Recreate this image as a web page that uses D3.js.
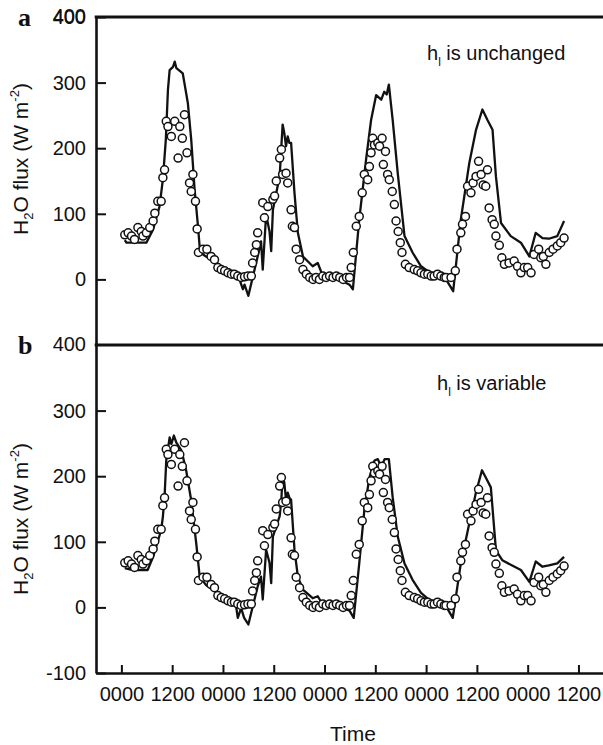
<!DOCTYPE html>
<html>
<head>
<meta charset="utf-8">
<script src="https://cdn.jsdelivr.net/npm/d3@7"></script>
<style>
  body { margin: 0; background: #fff; }
  svg { display: block; font-family: "Liberation Sans", Arial, sans-serif; }
  .tick text { font-size: 20px; fill: #111; }
</style>
</head>
<body>
<svg id="chart" width="603" height="745"></svg>
<script>
// x ticks (hours since start) and their labels
const timeTicks = [0, 12, 24, 36, 48, 60, 72, 84, 96, 108];
const yTicks = [0, 100, 200, 300, 400];
const yTicksB = [-100, 0, 100, 200, 300];

// measured H2O flux (hour, W m-2) - same in both panels
const observed = [
  [0.8,68],[1.6,71],[2.4,66],[3.1,61],[3.9,79],[4.7,73],[5.1,66],[5.9,71],[6.7,79],[7.5,89],
  [7.9,101],[8.6,119],[9.4,119],[9.8,155],[10.2,167],[10.6,241],[11,233],[11.8,218],[12.6,241],
  [13.4,185],[13.8,233],[14.4,215],[14.9,251],[15.5,193],[16.1,147],[16.5,134],[16.9,160],
  [17.5,119],[17.9,77],[18.2,41],[19.3,46],[20.2,46],[21.2,35],[22,30],[22.8,18],[23.6,15],
  [24.4,13],[25.2,10],[26,8],[26.7,8],[27.5,5],[28.3,3],[29.1,4],[29.9,5],[30.7,5],
  [31,25],[31.5,41],[31.9,53],[32.2,71],[33.4,117],[33.8,94],[34.6,111],[35.8,122],[36.2,127],
  [36.6,150],[37.4,185],[37.8,198],[38.1,160],[38.9,162],[39.3,147],[40.1,106],[40.4,81],
  [40.9,79],[41.3,46],[42.1,30],[42.9,15],[43.7,8],[44.5,3],[45.3,0],[46,3],[46.8,0],[47.6,5],
  [48.4,3],[49.2,5],[50,3],[50.8,5],[51.6,3],[52.4,0],[53.2,3],[53.9,3],
  [54.3,18],[54.8,41],[55.5,81],[56.2,96],[56.9,132],[57.4,160],[58.2,152],[58.6,172],[59,193],
  [59.4,215],[59.8,205],[60.6,208],[61,203],[61.6,215],[61.9,175],[62.4,195],[62.9,160],
  [63.3,152],[64,134],[64.5,114],[64.9,89],[65.4,73],[65.9,56],[66.3,41],[67.1,23],[68,18],
  [69.2,15],[70,13],[70.8,10],[71.6,8],[72.4,8],[73.2,5],[73.9,5],[74.7,8],[75.5,5],[76.3,3],
  [76.7,3],[77.9,3],[78.9,13],[79.3,46],[80.2,71],[80.6,84],[81.3,96],[81.8,142],[82.6,132],
  [83.1,147],[83.8,157],[84.4,180],[85,160],[85.5,144],[86.1,142],[86.5,167],[86.9,109],
  [87.6,91],[88.1,84],[88.5,66],[89.3,52],[89.9,33],[90.5,23],[91.6,25],[92.8,28],[93.6,20],
  [94.4,10],[95.2,18],[96,18],[96.8,10],[97.5,38],[98.6,46],[99.1,33],[99.7,35],[100.3,23],
  [101.1,41],[102,46],[103,51],[103.8,56],[104.6,63]
];

// modelled flux, panel a (hl unchanged)
const modelA = [
  [0.8,60],[1.2,56],[5.9,56],[7.5,76],[9,111],[9.8,152],[10.5,213],[11,289],[11.4,319],[12.2,324],
  [12.6,332],[13,322],[14.5,314],[15.7,269],[16.5,213],[17.3,137],[18.1,81],[18.6,41],[20,35],
  [22,28],[24,18],[25.6,15],[27.9,0],[28.7,-15],[29.1,-8],[30,-25],[32.2,35],[33,58],[33.4,15],
  [34.2,99],[35,73],[35.4,43],[35.8,106],[36.6,132],[37.4,157],[37.8,203],[38.1,236],[38.5,223],
  [38.9,203],[39.3,218],[39.7,208],[40.1,208],[40.9,132],[41.7,71],[42.9,35],[45.2,20],[46.4,25],
  [47.6,5],[51.5,0],[53.9,-8],[54.7,-15],[56.2,91],[57.8,182],[59,243],[60.2,281],[61.4,274],
  [62.1,286],[62.7,282],[63.2,297],[64.1,243],[65.3,162],[66.9,66],[68.8,41],[70.8,20],[73,10],
  [76.7,0],[78.4,-18],[80.2,91],[82.2,177],[83.8,228],[85.3,259],[86.5,243],[87.7,228],[88.5,157],
  [89.7,86],[92,66],[94.4,56],[96.4,35],[97.9,71],[99.5,63],[101,62],[103,66],[104.6,89]
];

// modelled flux, panel b (hl variable)
const modelB = [
  [0.8,60],[2.7,57],[6.2,57],[7.5,77],[9.4,118],[9.8,138],[10.2,168],[10.6,224],[11.4,259],
  [11.8,249],[12.4,262],[13,251],[14.2,239],[15.3,209],[16.5,163],[17.7,97],[18.5,47],[20,34],
  [23.3,19],[25.6,14],[27.1,2],[27.5,-16],[28.3,-1],[29,-16],[30,-26],[32.2,32],[33,47],[33.4,12],
  [34.2,88],[35,68],[35.4,37],[35.8,108],[36.6,124],[37.4,139],[37.8,164],[38.1,202],[38.5,190],
  [38.9,164],[39.3,175],[39.7,167],[40.1,164],[40.9,88],[41.7,47],[42.9,27],[45.2,14],[46.4,17],
  [47.6,4],[51.5,2],[53.9,-5],[54.9,-16],[56.2,67],[57.4,148],[58.6,198],[59.8,224],[60.6,226],
  [61.4,214],[62.2,226],[63.2,226],[64.1,168],[65.3,108],[66.9,67],[68.8,42],[70.8,22],[73,10],
  [76.7,2],[78.3,-16],[80.2,67],[82.2,128],[83.7,173],[85.2,209],[86.1,198],[87.3,183],[88.5,87],
  [90,72],[92,65],[94.4,57],[96.4,39],[97.9,70],[99.5,62],[101,64],[103,67],[104.6,77]
];

const panels = [
  { key: "a", model: modelA, note: "is unchanged", top: 17, bottom: 345, ticks: yTicks, titleY: 159, noteX: 427, noteY: 60 },
  { key: "b", model: modelB, note: "is variable", top: 345, bottom: 673, ticks: yTicksB, titleY: 519, noteX: 437, noteY: 390 }
];

const svg = d3.select("#chart");
const left = 96, right = 603;

const x = d3.scaleLinear().domain([-6, 113.8]).range([left, right]);

panels.forEach(p => {
  const y = d3.scaleLinear().domain([-100, 400]).range([p.bottom, p.top]);
  const g = svg.append("g");

  // y axis, ticks pointing inward; plain hyphen for negatives
  const yAxis = d3.axisLeft(y).tickValues(p.ticks).tickFormat(d => String(d))
    .tickSizeInner(-10).tickSizeOuter(0).tickPadding(10);
  const ya = g.append("g").attr("transform", `translate(${left},0)`).call(yAxis);
  ya.select(".domain").attr("stroke", "#111").attr("stroke-width", 2.6);
  ya.selectAll(".tick line").attr("stroke", "#111").attr("stroke-width", 2);

  // top frame line
  g.append("line")
    .attr("x1", left - 1.3).attr("x2", right)
    .attr("y1", p.top).attr("y2", p.top)
    .attr("stroke", "#111").attr("stroke-width", 3);

  // the 400 label sits on the top line
  g.append("text")
    .attr("x", left - 10).attr("y", p.top).attr("dy", "0.32em")
    .attr("text-anchor", "end").attr("font-size", 20).attr("fill", "#111")
    .text("400");

  // panel letter
  g.append("text")
    .attr("x", 18).attr("y", p.top + 9)
    .attr("font-family", "'Liberation Serif', 'Times New Roman', serif")
    .attr("font-weight", "bold").attr("font-size", 26).attr("fill", "#111")
    .text(p.key);

  // y title
  const title = g.append("text")
    .attr("transform", `translate(28,${p.titleY}) rotate(-90)`)
    .attr("text-anchor", "middle").attr("font-size", 21).attr("fill", "#111");
  title.append("tspan").text("H");
  title.append("tspan").attr("font-size", 13).attr("dy", 5).text("2");
  title.append("tspan").attr("dy", -5).text("O flux (W m");
  title.append("tspan").attr("font-size", 13).attr("dy", -9).text("-2");
  title.append("tspan").attr("dy", 9).text(")");

  // annotation
  const note = g.append("text")
    .attr("x", p.noteX).attr("y", p.noteY)
    .attr("font-size", 20).attr("fill", "#111");
  note.append("tspan").text("h");
  note.append("tspan").attr("font-size", 12).attr("dy", 6).text("l");
  note.append("tspan").attr("dy", -6).text(" " + p.note);

  // model line
  const line = d3.line().x(d => x(d[0])).y(d => y(d[1]));
  g.append("path")
    .datum(p.model)
    .attr("d", line)
    .attr("fill", "none")
    .attr("stroke", "#111")
    .attr("stroke-width", 2.3)
    .attr("stroke-linejoin", "round");

  // observations
  g.append("g")
    .selectAll("circle")
    .data(observed)
    .enter().append("circle")
    .attr("cx", d => x(d[0]))
    .attr("cy", d => y(d[1]))
    .attr("r", 4)
    .attr("fill", "#fff")
    .attr("stroke", "#111")
    .attr("stroke-width", 1.5);

  if (p.key === "b") {
    const xAxis = d3.axisBottom(x)
      .tickValues(timeTicks)
      .tickFormat(d => d % 24 === 0 ? "0000" : "1200")
      .tickSizeInner(-8).tickSizeOuter(0).tickPadding(14);
    const xa = g.append("g").attr("transform", `translate(0,${p.bottom})`).call(xAxis);
    xa.select(".domain").attr("stroke", "#111").attr("stroke-width", 2.6);
    xa.selectAll(".tick line").attr("stroke", "#111").attr("stroke-width", 2);
    xa.selectAll(".tick text").attr("font-size", 20);

    svg.append("text")
      .attr("x", 353).attr("y", 741)
      .attr("text-anchor", "middle").attr("font-size", 21).attr("fill", "#111")
      .text("Time");
  }
});
</script>
</body>
</html>
